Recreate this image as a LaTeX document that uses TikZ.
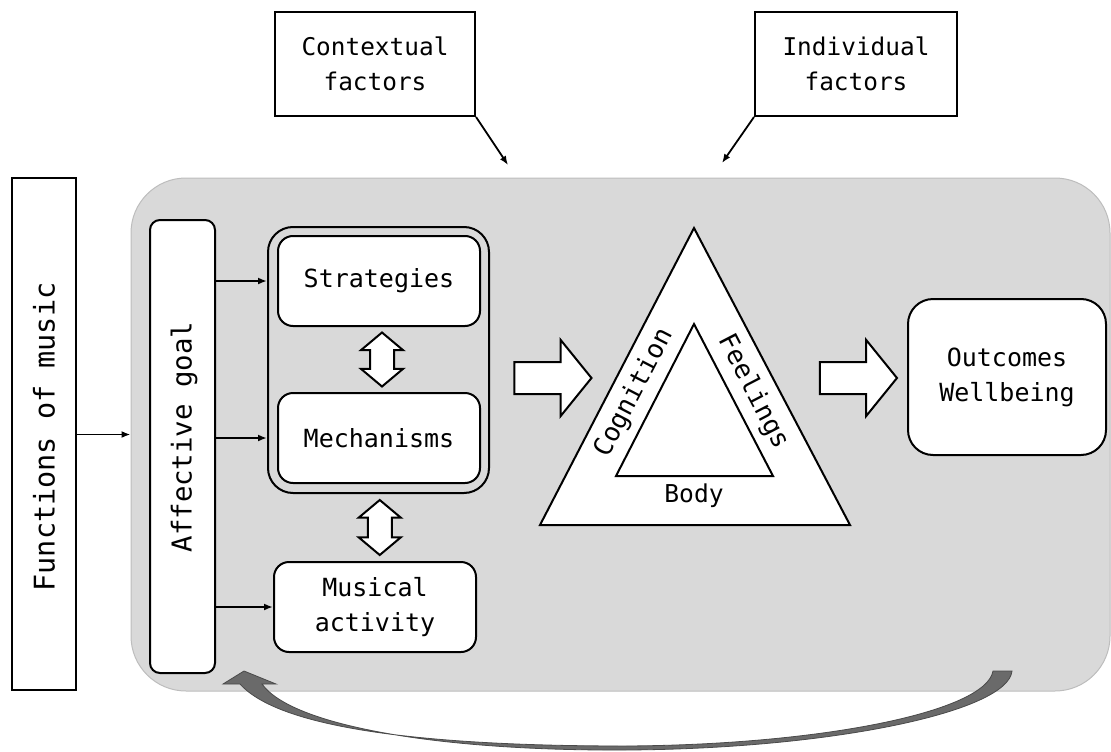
\documentclass[tikz,border=0pt]{standalone}
\usepackage{fontspec}
\setmainfont{DejaVu Sans Mono}
\usetikzlibrary{arrows.meta,shapes.arrows,calc}
\newcommand\mysize[1]{\fontsize{#1}{35}\selectfont}
\definecolor{regiongray}{HTML}{D9D9D9}
\definecolor{regionedge}{HTML}{BDBDBD}
\definecolor{loopgray}{HTML}{6A6A6A}
\definecolor{loopedge}{HTML}{4A4A4A}
\tikzset{
  box/.style={draw, line width=2pt, fill=white, inner sep=0pt, align=center, font=\mysize{25}},
  rbox/.style={box, rounded corners=#1},
  region/.style={draw=regionedge, line width=1pt, fill=regiongray, rounded corners=55pt, inner sep=0pt},
  conn/.style={line width=1.8pt, -{Latex[length=9pt,width=7pt]}},
  blockarrow/.style={single arrow, draw, fill=white, line width=2pt, inner xsep=0pt, inner ysep=15pt,
    single arrow head extend=22pt, single arrow tip angle=102, minimum height=77pt, minimum width=0pt},
  dblarrow/.style={double arrow, draw, fill=white, line width=2pt, inner xsep=0pt, inner ysep=11pt,
    double arrow head extend=9pt, double arrow tip angle=100, minimum height=54pt, minimum width=0pt, rotate=90},
  tri/.style={draw, line width=2pt, fill=white, line join=miter},
  lbl/.style={inner sep=0pt, font=\mysize{26}}
}
\begin{document}
\begin{tikzpicture}[x=1pt,y=-1pt]
\path[use as bounding box] (0,0) rectangle (1111,752);

% grey region
\node[region, minimum width=979pt, minimum height=513pt] (bg) at (620.5,434.5) {};

% top factor boxes
\node[box, minimum width=200pt, minimum height=104pt, font=\mysize{24.4}] (ctx) at (375,64) {Contextual\\factors};
\node[box, minimum width=202pt, minimum height=104pt, font=\mysize{24.4}] (ind) at (856,64) {Individual\\factors};
\coordinate (ctxend) at (508,165);
\coordinate (indend) at (722,163);
\draw[conn] (ctx.south east) -- (ctxend);
\draw[conn] (ind.south west) -- (indend);

% functions of music
\node[box, minimum width=64pt, minimum height=512pt] (func) at (44,434) {};
\node[inner sep=0pt, rotate=90, font=\mysize{28.5}] (functxt) at (44,437) {Functions of music};
\draw[conn] (func.east |- bg.west) -- (bg.west);

% affective goal
\node[rbox=10pt, minimum width=65pt, minimum height=453pt] (aff) at (182.5,446.5) {};
\node[inner sep=0pt, rotate=90, font=\mysize{27.4}] (afftxt) at (184,437) {Affective goal};

% strategies / mechanisms group
\node[rbox=25pt, fill=none, minimum width=221pt, minimum height=266pt] (grp) at (378.5,360) {};
\node[rbox=15pt, minimum width=202pt, minimum height=90pt] (strat) at (379,281) {Strategies};
\node[rbox=15pt, minimum width=202pt, minimum height=90pt] (mech) at (379,438) {Mechanisms};
\node[rbox=15pt, minimum width=202pt, minimum height=90pt] (mus) at (375,607) {Musical\\activity};

\node[dblarrow] (d1) at ($(strat.south)!0.5!(mech.north)+(3,0)$) {};
\node[dblarrow, minimum height=55pt] (d2) at ($(grp.south)!0.5!(mus.north)+(3,0)$) {};

\draw[conn] (aff.east |- strat.west) -- (grp.west |- strat.west);
\draw[conn] (aff.east |- mech.west) -- (grp.west |- mech.west);
\draw[conn] (aff.east |- mus.west) -- (mus.west);

% block arrows
\node[blockarrow] (b1) at (546.5,378) {};
\node[blockarrow] (b2) at (852,378) {};

% triangles
\coordinate (T1) at (694,228);
\coordinate (T2) at (540,525);
\coordinate (T3) at (850,525);
\coordinate (I1) at (694,324);
\coordinate (I2) at (616,476);
\coordinate (I3) at (773,476);
\draw[tri] (T1) -- (T2) -- (T3) -- cycle;
\draw[tri] (I1) -- (I2) -- (I3) -- cycle;
\node[lbl, rotate=62.6] (cog) at (634,393) {Cognition};
\node[lbl, rotate=-62.6] (feel) at (753,392) {Feelings};
\node[lbl, font=\mysize{24.6}] (body) at (694,496) {Body};

% outcomes
\node[rbox=25pt, minimum width=198pt, minimum height=156pt] (out) at (1007,377) {Outcomes\\Wellbeing};

% feedback loop arrow
\fill[loopgray, draw=loopedge, line width=0.8pt]
  (1012,671) .. controls (1008,712) and (830,749) .. (625,750)
  .. controls (440,751) and (292,726) .. (262,684)
  -- (276,684) -- (244,671) -- (223,684) -- (240,684)
  .. controls (282,731) and (440,746) .. (625,746)
  .. controls (820,745) and (986,712) .. (993,671) -- cycle;
\end{tikzpicture}
\end{document}
